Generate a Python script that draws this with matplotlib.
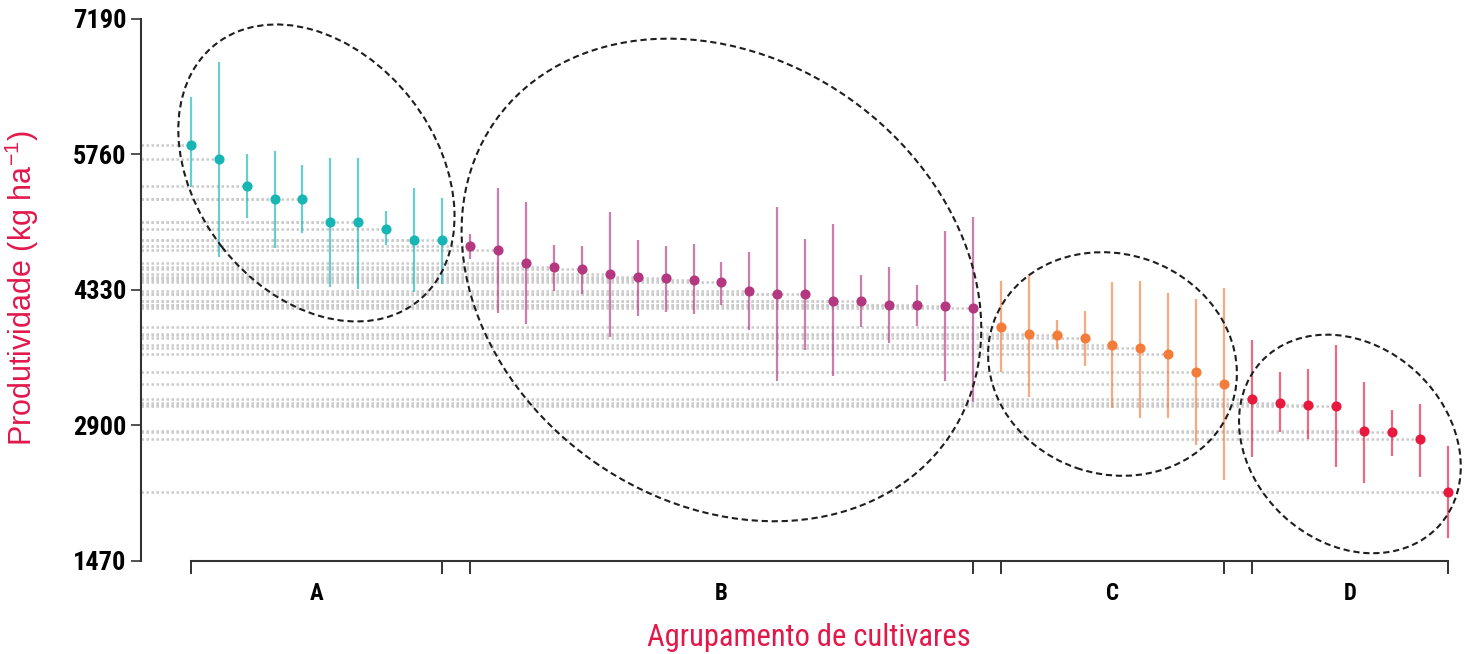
import matplotlib
matplotlib.use("Agg")
import matplotlib.pyplot as plt
import matplotlib.transforms as mtransforms
from matplotlib import font_manager
from matplotlib.patches import Ellipse

# productivity (kg/ha) per cultivar: mean, lower and upper limit, by group
groups = ["A", "B", "C", "D"]

mean_a = [5857, 5716, 5428, 5294, 5290, 5048, 5045, 4977, 4861, 4855]
low_a = [5420, 4681, 5087, 4770, 4935, 4365, 4344, 4805, 4306, 4390]
high_a = [6370, 6739, 5765, 5800, 5649, 5723, 5723, 5161, 5406, 5301]

mean_b = [4798, 4752, 4618, 4573, 4552, 4496, 4464, 4460, 4439, 4414,
          4316, 4288, 4285, 4217, 4211, 4175, 4168, 4161, 4137]
low_b = [4654, 4084, 3968, 4323, 4291, 3831, 4056, 4095, 4080, 4175,
         3908, 3373, 3700, 3422, 3943, 3767, 3953, 3373, 3148]
high_b = [4921, 5406, 5256, 4802, 4791, 5150, 4861, 4791, 4812, 4629,
          4734, 5203, 4868, 5027, 4488, 4576, 4383, 4949, 5104]

mean_c = [3943, 3866, 3858, 3820, 3753, 3715, 3655, 3468, 3341]
low_c = [3468, 3204, 3704, 3528, 3085, 2976, 2976, 2694, 2325]
high_c = [4428, 4499, 4010, 4112, 4414, 4428, 4302, 4232, 4348]

mean_d = [3180, 3137, 3119, 3106, 2845, 2828, 2754, 2198]
low_d = [2564, 2835, 2754, 2465, 2290, 2581, 2360, 1710]
high_d = [3802, 3461, 3496, 3753, 3359, 3064, 3130, 2684]

y_ticks = [1470, 2900, 4330, 5760, 7190]

colors = ["#17B6B5", "#B3387F", "#F47C3A", "#E8193F"]

# dashed ellipse around each group: centre value, width/height in px, angle
ellipse_center = [5565, 4436, 3549, 2705]
ellipse_size = [(327, 240), (553, 444), (252, 220), (242, 196)]
ellipse_angle = [-52, -35, -19, -43]

# fonts: a narrow face for horizontal text if one is there
names = {f.name for f in font_manager.fontManager.ttflist}
narrow = None
for cand in ["Liberation Sans Narrow", "Roboto Condensed", "Open Sans Condensed"]:
    if cand in names:
        narrow = cand
        break
if narrow:
    tick_size, letter_size, xlab_size = 19, 16.5, 22
else:
    narrow = "Liberation Sans"
    tick_size, letter_size, xlab_size = 17, 15, 19

plt.rcParams["font.family"] = ["Liberation Sans", "DejaVu Sans"]
plt.rcParams["mathtext.default"] = "regular"

label_red = "#E2184B"

fig = plt.figure(figsize=(14.7, 6.54), dpi=100)
ax = fig.add_axes([141 / 1470, 1 - 561 / 654, 1324 / 1470, 542 / 654])

means = [mean_a, mean_b, mean_c, mean_d]
lows = [low_a, low_b, low_c, low_d]
highs = [high_a, high_b, high_c, high_d]

x_left = -1.78
ax.set_xlim(x_left, 45.62)
ax.set_ylim(1470, 7190)

blend = mtransforms.blended_transform_factory(ax.transData, ax.transAxes)

start = 0
for g in range(4):
    n = len(means[g])
    xs = list(range(start, start + n))
    c = colors[g]
    # dotted guide from the axis to every point
    ax.hlines(means[g], x_left, xs, colors="#cbcbcb", linestyles=(0, (1, 1)),
              lw=1.8, zorder=1)
    ax.vlines(xs, lows[g], highs[g], colors=c, lw=1.6, alpha=0.65, zorder=2)
    ax.plot(xs, means[g], "o", color=c, ms=7.3, mec="none", zorder=3)

    # group bracket under the axis
    ax.plot([xs[0], xs[0]], [0, -12 / 542], transform=blend, clip_on=False,
            color="#333333", lw=1.4)
    ax.plot([xs[-1], xs[-1]], [0, -12 / 542], transform=blend, clip_on=False,
            color="#333333", lw=1.4)
    mid = (xs[0] + xs[-1]) / 2
    ax.text(mid, -32 / 542, groups[g], transform=blend, ha="center", va="center",
            fontsize=letter_size, fontweight="bold", family=narrow)

    # ellipse drawn in pixel units around the group centre
    w, h = ellipse_size[g]
    tr = fig.dpi_scale_trans + mtransforms.ScaledTranslation(
        mid, ellipse_center[g], ax.transData)
    ax.add_patch(Ellipse((0, 0), w / 100, h / 100, angle=ellipse_angle[g],
                         transform=tr, fill=False, ec="#1e1e1e", lw=1.5,
                         ls=(0, (3, 1.8)), zorder=4, clip_on=False))
    start += n

ax.plot([0, start - 1], [0, 0], transform=blend, clip_on=False,
        color="#333333", lw=1.5)

for side in ["top", "right", "bottom"]:
    ax.spines[side].set_visible(False)
ax.spines["left"].set_color("#333333")
ax.spines["left"].set_linewidth(1.5)

ax.set_xticks([])
ax.set_yticks(y_ticks)
ax.set_yticklabels([str(v) for v in y_ticks], fontsize=tick_size,
                   fontweight="bold", family=narrow)
ax.tick_params(axis="y", length=7, width=1.2, color="#333333", pad=3.5)

fig.text(22 / 1470, 1 - 288 / 654, r"Produtividade (kg ha$^{-1}$)",
         rotation=90, ha="center", va="center", fontsize=22, color=label_red)
fig.text(809 / 1470, 1 - 637 / 654, "Agrupamento de cultivares",
         ha="center", va="center", fontsize=xlab_size, color=label_red,
         family=narrow)

fig.savefig("out.png", dpi=100)
